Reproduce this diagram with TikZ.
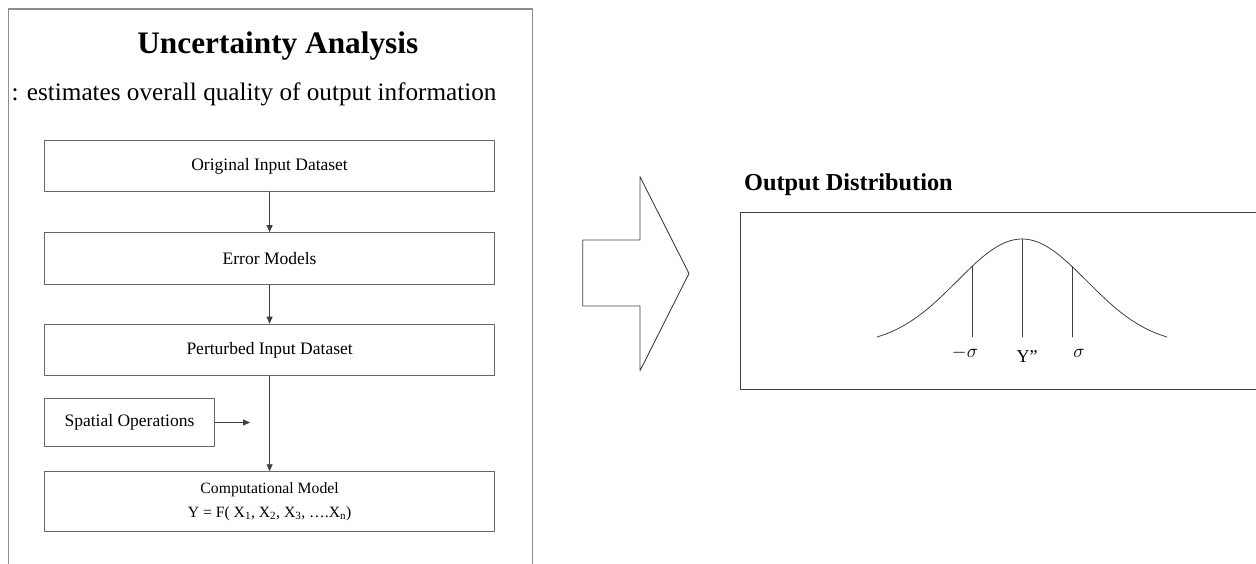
\documentclass[tikz,border=0pt]{standalone}
\usepackage{fix-cm}
\usepackage{fontspec}
\setmainfont{Liberation Serif}
\usetikzlibrary{arrows.meta}

\definecolor{framegray}{gray}{0.55}
\definecolor{boxgray}{gray}{0.40}
\definecolor{inkgray}{gray}{0.25}

\tikzset{
  stepbox/.style={draw=boxgray, line width=0.9pt, inner sep=0pt,
    minimum width=450pt, minimum height=51.7pt,
    font=\fontsize{17.5}{21}\selectfont},
  flow/.style={draw=inkgray, line width=0.9pt,
    -{Triangle[length=7pt,width=6pt]}},
}

\begin{document}
\begin{tikzpicture}[x=1pt, y=-1pt, line cap=round, line join=round]
  \useasboundingbox (0,0) rectangle (1256,563);

  % --- left panel: frame, heading, processing chain ---
  \draw[framegray, line width=1.2pt] (8.6,580) -- (8.6,9) -- (532.7,9) -- (532.7,580);
  \node[anchor=base, font=\fontsize{31.3}{36}\selectfont\bfseries] (title) at (277.8,53.3) {Uncertainty Analysis};
  \node[anchor=base, font=\fontsize{25.2}{30}\selectfont] (subtitle) at (254,100) {: estimates overall quality of output information};

  \node[stepbox] (orig) at (269.6,165.85) {Original Input Dataset};
  \node[stepbox] (err) at (269.6,258.5) {Error Models};
  \node[stepbox] (pert) at (269.6,350) {Perturbed Input Dataset};
  \node[stepbox, minimum width=169.7pt, minimum height=48.4pt] (spatial) at (129.45,422.5) {Spatial Operations};
  \node[stepbox, minimum height=59.3pt, align=center, font=\fontsize{15.7}{24}\selectfont] (model) at (269.6,501.35)
    {Computational Model\\Y = F( X\textsubscript{1}, X\textsubscript{2}, X\textsubscript{3}, ….X\textsubscript{n})};
  \coordinate (merge) at (250,422.5);

  \draw[flow] (orig) -- (err);
  \draw[flow] (err) -- (pert);
  \draw[flow] (pert) -- (model);
  \draw[flow] (spatial) -- (merge);

  % --- block arrow between the panels ---
  \draw[inkgray, line width=0.9pt] (582.7,240) -- (640,240) -- (640,176.7) -- (689,273.5)
    -- (640,370.7) -- (640,306) -- (582.7,306) -- cycle;

  % --- right panel: output distribution ---
  \node[anchor=base west, font=\fontsize{24.3}{28}\selectfont\bfseries] (outtitle) at (740.6,190) {Output Distribution};
  \draw[inkgray, line width=0.9pt] (1262,212.5) -- (740.7,212.5) -- (740.7,389) -- (1262,389);

  \draw[inkgray, line width=0.8pt, domain=-14.5:14.5, samples=90, smooth]
    plot ({1022+10*\x}, {337-98*(exp(-((\x)*(\x))/84)-0.0818)/0.9182});

  \coordinate (lo-top) at (972,266.5);
  \coordinate (lo-bot) at (972,337);
  \coordinate (mu-top) at (1022,239);
  \coordinate (mu-bot) at (1022,337);
  \coordinate (hi-top) at (1072,266.5);
  \coordinate (hi-bot) at (1072,337);
  \draw[inkgray, line width=0.8pt] (lo-top) -- (lo-bot);
  \draw[inkgray, line width=0.8pt] (mu-top) -- (mu-bot);
  \draw[inkgray, line width=0.8pt] (hi-top) -- (hi-bot);

  \node[anchor=base, font=\fontsize{19}{22}\selectfont] (lo-lab) at (965,357) {$-\sigma$};
  \node[anchor=base, font=\fontsize{18}{21}\selectfont] (mu-lab) at (1027,362) {Y”};
  \node[anchor=base, font=\fontsize{19}{22}\selectfont] (hi-lab) at (1079,357) {$\sigma$};
\end{tikzpicture}
\end{document}
